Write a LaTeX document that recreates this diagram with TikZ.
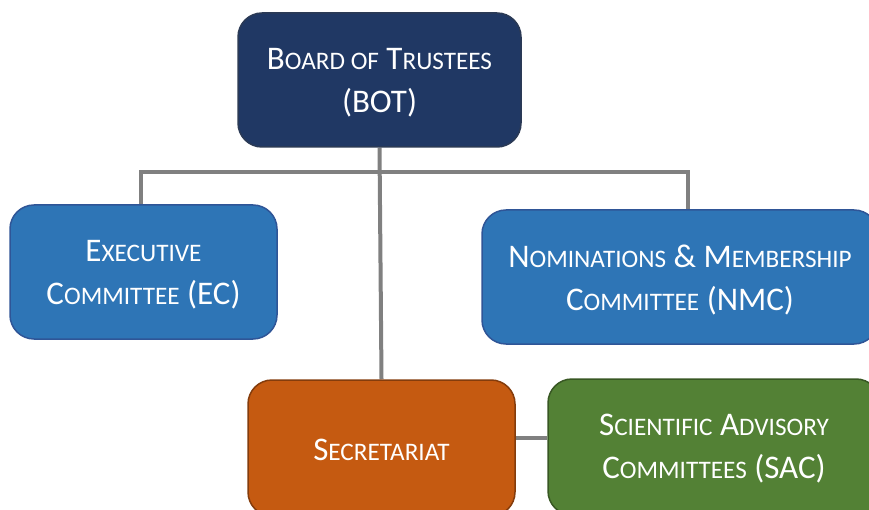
\documentclass[tikz,border=0pt]{standalone}
\usepackage{fontspec}
\setmainfont{Carlito}
\usetikzlibrary{backgrounds}
\newcommand\sm[1]{{\fontsize{25.2}{30}\selectfont #1}}
\definecolor{navy}{HTML}{203864}
\definecolor{navyline}{HTML}{2B3A55}
\definecolor{midblue}{HTML}{2E75B6}
\definecolor{midblueline}{HTML}{2F5597}
\definecolor{rust}{HTML}{C55A11}
\definecolor{rustline}{HTML}{843C0C}
\definecolor{leaf}{HTML}{538135}
\definecolor{leafline}{HTML}{385723}
\definecolor{linkgray}{HTML}{808080}
\tikzset{
  orgbox/.style={draw, line width=1.5pt, rounded corners=24pt, inner sep=0pt},
  orgtext/.style={text=white, align=center, font=\fontsize{33}{43}\selectfont, inner sep=0pt},
  link/.style={draw=linkgray, line width=4pt},
}
\begin{document}
\begin{tikzpicture}[x=1pt,y=-1pt]
\useasboundingbox (0,0) rectangle (869,510);
\clip (0,0) rectangle (869,510);
\node[orgbox, fill=navy, draw=navyline, minimum width=283pt, minimum height=134pt] (bot) at (379.5,80) {};
\node[orgtext] (bottxt) at ([yshift=-3pt]bot.center) {B\sm{OARD OF} T\sm{RUSTEES}\\(BOT)};
\node[orgbox, fill=midblue, draw=midblueline, minimum width=267pt, minimum height=134pt] (ec) at (143.5,272) {};
\node[orgtext] (ectxt) at ([yshift=-3pt]ec.center) {E\sm{XECUTIVE}\\C\sm{OMMITTEE} (EC)};
\node[orgbox, fill=midblue, draw=midblueline, minimum width=396pt, minimum height=134pt] (nmc) at (680,277) {};
\node[orgtext] (nmctxt) at ([yshift=-3pt]nmc.center) {N\sm{OMINATIONS} \& M\sm{EMBERSHIP}\\C\sm{OMMITTEE} (NMC)};
\node[orgbox, fill=rust, draw=rustline, minimum width=267pt, minimum height=136pt] (sec) at (381.5,448) {};
\node[orgtext] (sectxt) at ([yshift=-2pt]sec.center) {S\sm{ECRETARIAT}};
\node[orgbox, fill=leaf, draw=leafline, minimum width=332pt, minimum height=136pt] (sac) at (714,447) {};
\node[orgtext] (sactxt) at ([yshift=-2pt]sac.center) {S\sm{CIENTIFIC} A\sm{DVISORY}\\C\sm{OMMITTEES} (SAC)};
\coordinate (hub) at (380,172);
\begin{scope}[on background layer]
\draw[link] (bot.south) -- (sec.north);
\draw[link] (ec.north -| 141,0) |- (hub) -| (nmc.north -| 688,0);
\draw[link] (sec.east |- 0,438) -- (sac.west |- 0,438);
\end{scope}
\end{tikzpicture}
\end{document}
